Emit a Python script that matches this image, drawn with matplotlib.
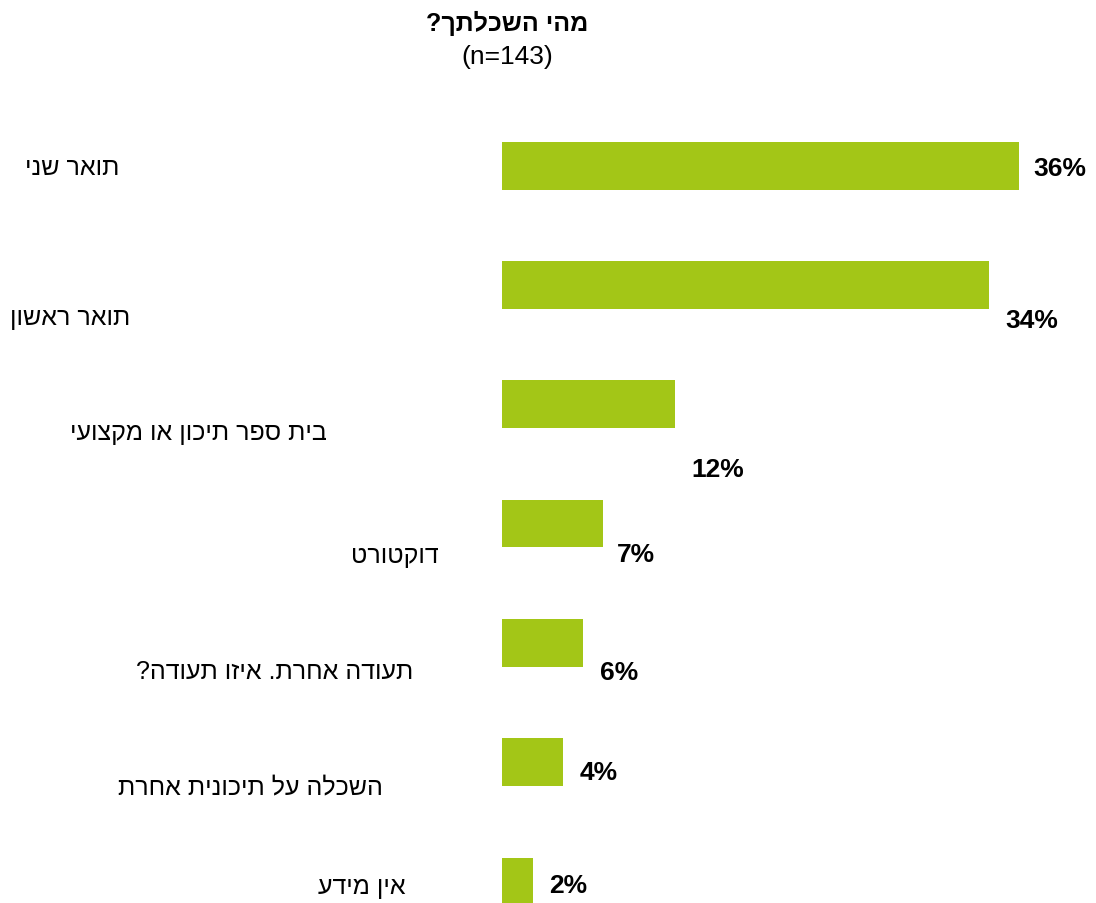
import matplotlib
matplotlib.use('Agg')
import matplotlib.pyplot as plt

plt.rcParams['font.family'] = ['Liberation Sans', 'DejaVu Sans']

# data
categories = ['תואר שני', 'תואר ראשון', 'בית ספר תיכון או מקצועי', 'דוקטורט',
              'תעודה אחרת. איזו תעודה?', 'השכלה על תיכונית אחרת', 'אין מידע']
values = [36.2, 34.1, 12.1, 7.1, 5.7, 4.3, 2.2]
title = 'מהי השכלתך?'
subtitle = '(n=143)'

GREEN = '#A3C617'


def rtl(s):
    # matplotlib has no bidi support, so flip hebrew text into visual order
    return s[::-1]


W, H = 1096, 904
fig = plt.figure(figsize=(W / 100, H / 100), dpi=100)
# axes: bars start at x=502px, 7 slots of ~119px starting at y=107px
ax = fig.add_axes([502 / W, (H - 942) / H, 571 / W, 835 / H])

ypos = list(range(len(values)))
ax.barh(ypos, values, height=0.40, color=GREEN)
ax.set_xlim(0, 40)
ax.set_ylim(len(values) - 0.5, -0.5)
ax.axis('off')

# category labels sit at irregular spots (right edge px, drop px)
cat_pos = [(119, 1), (130, 32), (327, 28), (439, 31), (413, 28), (383, 24), (406, 5)]
for i, (lab, (xr, dy)) in enumerate(zip(categories, cat_pos)):
    ax.annotate(rtl(lab), xy=(xr, i), xycoords=('figure pixels', 'data'),
                xytext=(0, -dy), textcoords='offset pixels',
                ha='right', va='center', fontsize=18, annotation_clip=False)

# value labels, also scattered a bit
val_off = [(15, 2), (17, 35), (17, 65), (14, 30), (17, 29), (16, 10), (16, 4)]
for i, (v, (dx, dy)) in enumerate(zip(values, val_off)):
    ax.annotate(f'{v:.0f}%', xy=(v, i), xytext=(dx, -dy), textcoords='offset pixels',
                ha='left', va='center', fontsize=19, fontweight='bold',
                annotation_clip=False)

fig.text(507 / W, 1 - 23 / H, rtl(title), ha='center', va='center',
         fontsize=18, fontweight='bold')
fig.text(507 / W, 1 - 57 / H, subtitle, ha='center', va='center', fontsize=19)

fig.savefig('out.png', dpi=100, facecolor='white')
